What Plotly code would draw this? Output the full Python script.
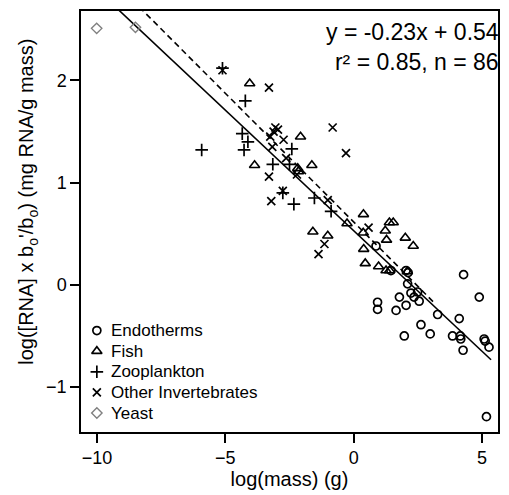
import plotly.graph_objects as go
import numpy as np

# Data
endo_x = [0.87, 0.93, 0.93, 1.45, 1.65, 1.78, 2.04, 1.97, 2.04, 2.10, 2.23, 2.49, 2.55, 2.35,
          2.62, 2.98, 3.27, 3.85, 4.11, 4.15, 4.17, 4.26, 4.28, 4.89, 5.08, 5.12, 5.27, 5.17, 2.12]
endo_y = [0.38, -0.17, -0.24, 0.14, -0.25, -0.12, -0.20, -0.50, 0.14, 0.01, -0.08, -0.07, -0.16, -0.12,
          -0.39, -0.48, -0.29, -0.50, -0.33, -0.50, -0.53, -0.64, 0.10, -0.12, -0.53, -0.55, -0.61, -1.29, 0.12]

fish_x = [-4.05, -2.07, -3.86, -1.63, -2.18, -1.59, -1.01, -0.26, 0.38, 1.39, 1.54, 1.23, 1.28,
          0.37, 0.45, 0.97, 1.26, 1.40, 2.01, 2.32, 2.09, 0.39, -2.15]
fish_y = [1.97, 1.45, 1.17, 1.17, 1.14, 0.52, 0.48, 0.60, 0.69, 0.61, 0.61, 0.53, 0.44,
          0.51, 0.21, 0.18, 0.14, 0.14, 0.46, 0.38, 0.13, 0.35, 1.11]

zoo_x = [-5.11, -4.22, -4.34, -4.12, -4.27, -5.92, -3.15, -2.41, -2.76, -2.33, -1.53, -0.88, -2.50]
zoo_y = [2.12, 1.80, 1.48, 1.40, 1.32, 1.32, 1.18, 1.33, 0.90, 0.79, 0.85, 0.72, 1.18]

inv_x = [-5.11, -3.30, -3.05, -3.12, -3.25, -2.73, -3.17, -2.63, -3.30, -3.21, -2.76, -2.21,
         -0.82, -0.30, -1.01, -1.14, -1.37, 0.58, -2.95]
inv_y = [2.10, 1.93, 1.54, 1.50, 1.45, 1.42, 1.35, 1.24, 1.06, 0.82, 0.92, 1.08,
         1.54, 1.29, 0.83, 0.40, 0.30, 0.56, 1.52]

yeast_x = [-10.01, -8.50]
yeast_y = [2.51, 2.52]

# Regression lines: [slope, intercept, x_start, x_end]
fit_all = [-0.236, 0.53, -10.0, 5.35]
fit_ecto = [-0.252, 0.615, -10.0, 3.1]

eq_text = ["y = -0.23x + 0.54", "r\u00b2 = 0.85, n = 86"]
legend_labels = ["Endotherms", "Fish", "Zooplankton", "Other Invertebrates", "Yeast"]

FONT = "Liberation Sans, Arial, sans-serif"

series = [
    (endo_x, endo_y, dict(symbol="circle-open", size=8, color="black", line=dict(width=1.7))),
    (fish_x, fish_y, dict(symbol="triangle-up-open", size=9, color="black", line=dict(width=1.6))),
    (zoo_x, zoo_y, dict(symbol="cross-thin-open", size=9, color="black", line=dict(width=1.7))),
    (inv_x, inv_y, dict(symbol="x-thin-open", size=8, color="black", line=dict(width=1.7))),
    (yeast_x, yeast_y, dict(symbol="diamond-open", size=8, color="#808080", line=dict(width=1.4))),
]

fig = go.Figure()

def line_trace(p, dash):
    xs = np.array([p[2], p[3]])
    ys = p[0] * xs + p[1]
    return go.Scatter(x=xs, y=ys, mode="lines", showlegend=False,
                      line=dict(color="black", width=1.6, dash=dash), hoverinfo="skip")

fig.add_trace(line_trace(fit_all, "solid"))
fig.add_trace(line_trace(fit_ecto, "6px,4px"))

for (sx, sy, m), name in zip(series, legend_labels):
    fig.add_trace(go.Scatter(x=sx, y=sy, mode="markers", name=name, marker=m, showlegend=False))

# Manual legend (bottom-left inside the plot), on a hidden overlay axis in [0,1] units
leg_y0, leg_dy, leg_mx, leg_tx = 0.241, 0.049, 0.038, 0.068
for i, ((sx, sy, m), name) in enumerate(zip(series, legend_labels)):
    yy = leg_y0 - i * leg_dy
    fig.add_trace(go.Scatter(x=[leg_mx], y=[yy], mode="markers", marker=m,
                             xaxis="x2", yaxis="y2", showlegend=False, hoverinfo="skip"))
    fig.add_annotation(x=leg_tx, y=yy, xref="paper", yref="paper", xanchor="left", yanchor="middle",
                       text=name, showarrow=False, font=dict(family=FONT, size=17, color="black"))

fig.add_annotation(x=1, y=1, xref="paper", yref="paper", xanchor="right", yanchor="top",
                   xshift=3, yshift=-6,
                   text="<br>".join(eq_text), showarrow=False, align="right",
                   font=dict(family=FONT, size=23, color="black"))

# y-axis title as annotation (positioned like the reference)
fig.add_annotation(x=-0.128, y=0.546, xref="paper", yref="paper", xanchor="center", yanchor="middle",
                   textangle=-90, showarrow=False,
                   text="log([RNA] x b<sub>o</sub>'/b<sub>o</sub>) (mg RNA/g mass)",
                   font=dict(family=FONT, size=20, color="black"))

axis_common = dict(showline=True, linecolor="black", linewidth=1.5, mirror=True,
                   ticks="outside", ticklen=9, tickwidth=1.5, tickcolor="black",
                   showgrid=False, zeroline=False,
                   tickfont=dict(family=FONT, size=18, color="black"))

fig.update_layout(
    width=509, height=495,
    margin=dict(l=81, r=10, t=9, b=63),
    paper_bgcolor="white", plot_bgcolor="white",
    font=dict(family=FONT, color="black"),
    xaxis=dict(range=[-10.62, 5.62], tickvals=[-10, -5, 0, 5],
               title=dict(text="log(mass) (g)", font=dict(family=FONT, size=20), standoff=0),
               **axis_common),
    yaxis=dict(range=[-1.44, 2.68], tickvals=[-1, 0, 1, 2], **axis_common),
    xaxis2=dict(overlaying="x", range=[0, 1], visible=False),
    yaxis2=dict(overlaying="y", range=[0, 1], visible=False),
    showlegend=False,
)

fig.write_html("out.html", config={"displayModeBar": False},
               post_script="document.body.style.margin='0';document.body.style.overflow='hidden';")
